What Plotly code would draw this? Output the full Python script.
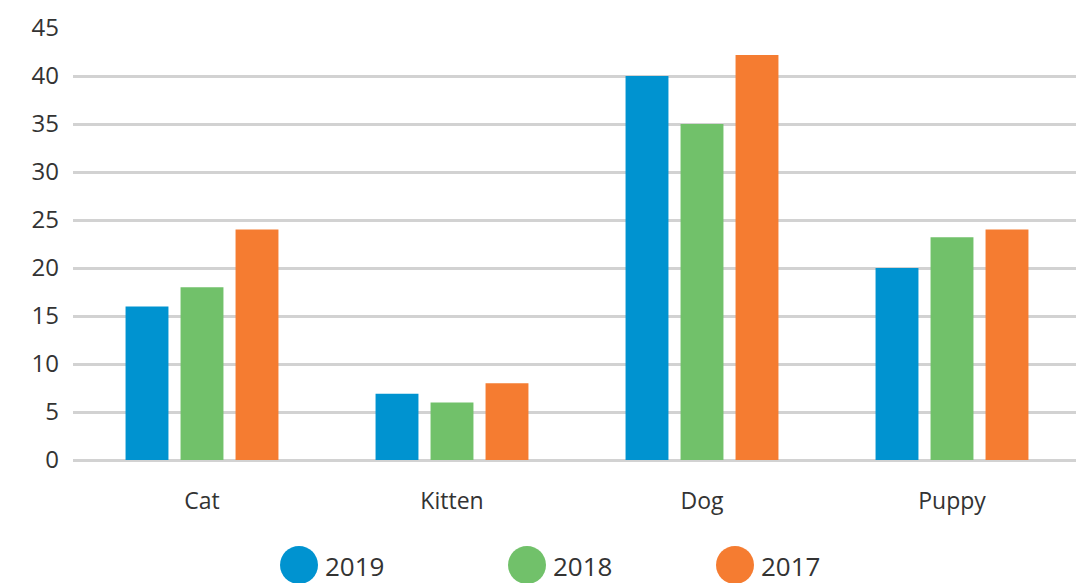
import plotly.graph_objects as go

categories = ["Cat", "Kitten", "Dog", "Puppy"]
years = ["2019", "2018", "2017"]
values_2019 = [16, 6.9, 40, 20]
values_2018 = [18, 6, 35, 23.2]
values_2017 = [24, 8, 42.2, 24]
colors = ["#0093D0", "#71C16A", "#F57C31"]
y_ticks = [0, 5, 10, 15, 20, 25, 30, 35, 40, 45]

# page has an 8px body margin; figure is sized to fit the window
OFF = 8
W, H = 1084 - OFF, 583 - OFF
L, R, T, B = 73 - OFF, 6, 28 - OFF, 123
PW, PH = W - L - R, H - T - B

fig = go.Figure()
for name, vals, c in zip(years, [values_2019, values_2018, values_2017], colors):
    fig.add_trace(go.Bar(x=categories, y=vals, name=name, marker=dict(color=c, line=dict(width=0)),
                         showlegend=False))

font_fam = "Open Sans, Lato, sans-serif"

def px2paper(x, y):
    # x, y given in window pixels
    x -= OFF
    y -= OFF
    return (x - L) / PW, (H - B - y) / PH

legend_pos = [(299, 565), (527, 565), (735, 565)]
r = 19
for (cx, cy), name, c in zip(legend_pos, years, colors):
    x0, y0 = px2paper(cx - r, cy + r)
    x1, y1 = px2paper(cx + r, cy - r)
    fig.add_shape(type="circle", xref="paper", yref="paper", x0=x0, x1=x1, y0=y0, y1=y1,
                  fillcolor=c, line=dict(width=0))
    tx, ty = px2paper(cx + r + 5, cy + 1)
    fig.add_annotation(xref="paper", yref="paper", x=tx, y=ty, text=name, showarrow=False,
                       xanchor="left", yanchor="middle", font=dict(size=26, color="#333333", family=font_fam))

fig.update_layout(
    width=W, height=H,
    margin=dict(l=L, r=R, t=T, b=B, autoexpand=False),
    paper_bgcolor="white", plot_bgcolor="white",
    barmode="group", bargap=0.34, bargroupgap=0.22,
    font=dict(family=font_fam, color="#333333"),
    xaxis=dict(range=[-0.516, 3.504], showgrid=False, showline=False, zeroline=False, automargin=False,
               ticks="", tickfont=dict(size=23, color="#333333"), ticklabelstandoff=25),
    yaxis=dict(range=[0, 45], tickvals=y_ticks, showgrid=True, gridcolor="#d2d2d2", gridwidth=2.5,
               zeroline=True, zerolinecolor="#d2d2d2", zerolinewidth=2.5, showline=False, automargin=False,
               tickfont=dict(size=24, color="#333333"), ticklabelstandoff=13),
    showlegend=False,
)

fig.write_html("out.html")
